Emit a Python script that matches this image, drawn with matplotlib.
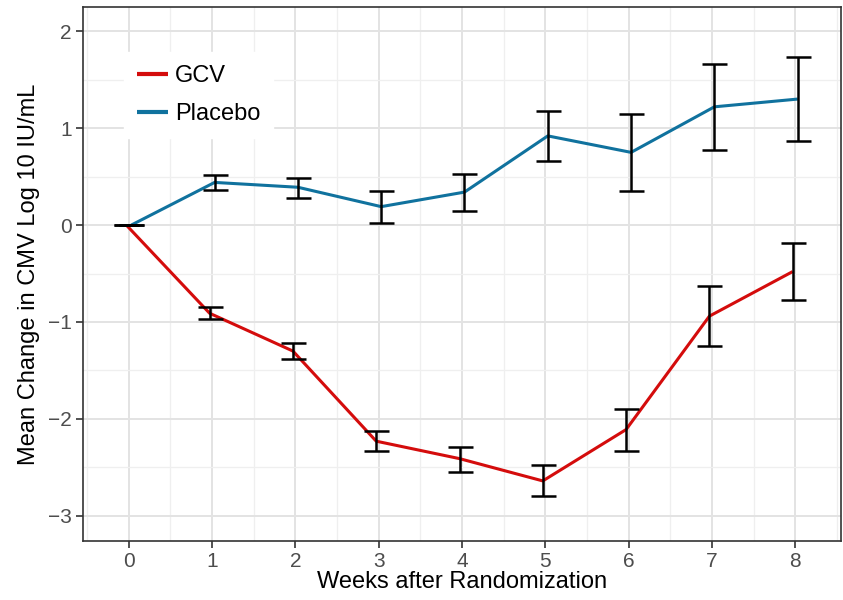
# -------------------------------------------------------------------------------------
# Library
import numpy as np
import matplotlib
matplotlib.use('Agg')
import matplotlib.pyplot as plt
from matplotlib.ticker import MultipleLocator
# -------------------------------------------------------------------------------------

# -------------------------------------------------------------------------------------
# Data
weeks = np.array([0, 1, 2, 3, 4, 5, 6, 7, 8])

gcv_mean = np.array([0.0, -0.91, -1.30, -2.23, -2.41, -2.64, -2.11, -0.94, -0.48])
gcv_low = np.array([0.0, -0.97, -1.38, -2.33, -2.55, -2.80, -2.33, -1.25, -0.77])
gcv_high = np.array([0.0, -0.85, -1.22, -2.13, -2.29, -2.48, -1.90, -0.63, -0.19])

pla_mean = np.array([0.0, 0.44, 0.39, 0.19, 0.34, 0.92, 0.75, 1.22, 1.30])
pla_low = np.array([0.0, 0.36, 0.28, 0.02, 0.15, 0.66, 0.35, 0.77, 0.87])
pla_high = np.array([0.0, 0.52, 0.49, 0.35, 0.53, 1.18, 1.15, 1.66, 1.73])
# -------------------------------------------------------------------------------------

# -------------------------------------------------------------------------------------
# Style
plt.rcParams['font.family'] = ['Liberation Sans', 'DejaVu Sans']
# -------------------------------------------------------------------------------------

# -------------------------------------------------------------------------------------
# Figure
fig = plt.figure(figsize=(8.43, 6.0), dpi=100)
ax = fig.add_axes([83 / 843, 1 - 541 / 600, (841 - 83) / 843, (541 - 7) / 600])

dodge = 0.03
series = [(weeks - dodge, gcv_mean, gcv_low, gcv_high, '#d40c0c', 'GCV'),
          (weeks + dodge, pla_mean, pla_low, pla_high, '#10729e', 'Placebo')]

for x, m, lo, hi, col, lab in series:
    ax.plot(x, m, color=col, lw=2.2, label=lab, zorder=3, solid_capstyle='butt')
    ax.errorbar(x, m, yerr=[m - lo, hi - m], fmt='none', ecolor='black',
                elinewidth=1.8, capsize=9, capthick=1.8, zorder=4)

ax.set_xlim(-0.55, 8.55)
ax.set_ylim(-3.26, 2.25)
ax.xaxis.set_major_locator(MultipleLocator(1))
ax.xaxis.set_minor_locator(MultipleLocator(0.5))
ax.yaxis.set_major_locator(MultipleLocator(1))
ax.yaxis.set_minor_locator(MultipleLocator(0.5))

ax.grid(which='major', color='#e3e3e3', lw=1.4, zorder=0)
ax.grid(which='minor', color='#efefef', lw=0.9, zorder=0)
ax.set_axisbelow(True)

for s in ax.spines.values():
    s.set_color('#333333')
    s.set_linewidth(1.2)

ax.tick_params(which='major', length=5, width=1.2, color='#333333', pad=3,
               labelsize=15, labelcolor='#4d4d4d')
ax.tick_params(which='minor', length=0)

ax.set_xlabel('Weeks after Randomization', fontsize=17, labelpad=0)
ax.set_ylabel('Mean Change in CMV Log 10 IU/mL', fontsize=17, labelpad=6)

leg = ax.legend(loc='upper left', bbox_to_anchor=(0.039, 0.937), fontsize=17,
                frameon=True, fancybox=False, edgecolor='white', framealpha=1,
                handlelength=1.3, handletextpad=0.3, labelspacing=0.67,
                borderpad=0.55)
for h in leg.get_lines():
    h.set_linewidth(3)

fig.savefig('out.png', dpi=100)
# -------------------------------------------------------------------------------------
